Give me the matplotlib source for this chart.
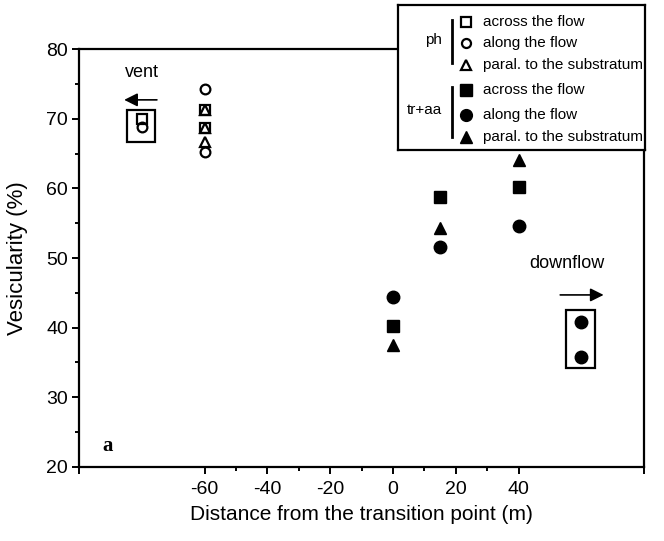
import matplotlib
matplotlib.use("Agg")
import matplotlib.pyplot as plt
from matplotlib.patches import Rectangle

plt.rcParams['font.family'] = ['Liberation Sans', 'DejaVu Sans']

# ph (open symbols) at the vent side, x = -60 m
ph_across = [71.2, 68.7]
ph_along = [74.3, 65.2]
ph_paral = [71.2, 68.7, 66.6]

# tr+aa (filled symbols)
tr_x = [0, 15, 40]
tr_across = [40.3, 58.8, 60.2]
tr_along = [44.4, 51.6, 54.6]
tr_paral = [37.5, 54.3, 64.1]

# reference symbols in the boxes
vent_x = -80
vent_across = [70.0]
vent_along = [68.8]
down_x = 60
down_along = [40.8, 35.8]

legend_groups = ["ph", "tr+aa"]
legend_labels = ["across the flow", "along the flow", "paral. to the substratum"]

fig = plt.figure(figsize=(6.64, 5.41), dpi=100)
ax = fig.add_axes([0.119, 0.1368, 0.851, 0.7726])

open_kw = dict(ls='none', mfc='white', mec='black', mew=1.6, ms=7)
fill_kw = dict(ls='none', color='black', ms=9)

ax.plot([-60] * len(ph_across), ph_across, marker='s', **open_kw)
ax.plot([-60] * len(ph_paral), ph_paral, marker='^', ls='none', mfc='none', mec='black', mew=1.6, ms=7)
ax.plot([-60] * len(ph_along), ph_along, marker='o', **open_kw)

ax.plot(tr_x, tr_across, marker='s', **fill_kw)
ax.plot(tr_x, tr_along, marker='o', **fill_kw)
ax.plot(tr_x, tr_paral, marker='^', **fill_kw)

# vent box
ax.plot([vent_x], vent_across, marker='s', ls='none', mfc='none', mec='black', mew=1.6, ms=7)
ax.plot([vent_x], vent_along, marker='o', ls='none', mfc='none', mec='black', mew=1.6, ms=7)
ax.add_patch(Rectangle((-84.7, 66.6), 9.0, 4.7, fill=False, lw=1.6, ec='black'))
ax.text(vent_x, 76.6, "vent", ha='center', va='center', fontsize=13)
ax.annotate("", xy=(-86.5, 72.7), xytext=(-74.3, 72.7),
            arrowprops=dict(arrowstyle='-|>', color='black', lw=1.2, mutation_scale=20))

# downflow box
ax.plot([down_x] * len(down_along), down_along, marker='o', **fill_kw)
ax.add_patch(Rectangle((55.0, 34.2), 9.5, 8.4, fill=False, lw=1.6, ec='black'))
ax.text(55.5, 49.2, "downflow", ha='center', va='center', fontsize=13)
ax.annotate("", xy=(68.0, 44.7), xytext=(52.4, 44.7),
            arrowprops=dict(arrowstyle='-|>', color='black', lw=1.2, mutation_scale=20))

ax.text(-91, 23.0, "a", fontsize=15, fontweight='bold', family='Liberation Serif',
        ha='center', va='center')

ax.set_xlim(-100, 80)
ax.set_ylim(20, 80)
ax.set_xticks([-100, -60, -40, -20, 0, 20, 40, 80])
ax.set_xticklabels(["", "-60", "-40", "-20", "0", "20", "40", ""])
ax.set_xticks([-50, -30, -10, 10, 30], minor=True)
ax.set_yticks([20, 30, 40, 50, 60, 70, 80])
ax.set_yticks([25, 35, 45, 55, 65, 75], minor=True)
ax.tick_params(which='both', direction='out', width=1.4, labelsize=14)
ax.tick_params(which='major', length=5)
ax.tick_params(which='minor', length=3)
ax.tick_params(axis='x', pad=5)
ax.tick_params(axis='y', pad=3)
for s in ax.spines.values():
    s.set_linewidth(1.6)
ax.set_xlabel("Distance from the transition point (m)", fontsize=15, labelpad=5)
ax.set_ylabel("Vesicularity (%)", fontsize=16, labelpad=13)

# legend box drawn as a small overlay axes in pixel-like units
lax = fig.add_axes([0.599, 0.7227, 0.372, 0.268])
lax.set_xlim(0, 247)
lax.set_ylim(145, 0)
lax.set_xticks([])
lax.set_yticks([])
for s in lax.spines.values():
    s.set_linewidth(1.6)

markers = ['s', 'o', '^']
rows = [[17, 38, 60], [85, 110, 132]]
bars = [(15, 58), (82, 132)]
text_y = [35, 105]
for g, group in enumerate(legend_groups):
    lax.text(44, text_y[g], group, ha='right', va='center', fontsize=11)
    lax.plot([54, 54], bars[g], color='black', lw=2)
    for m, lab, y in zip(markers, legend_labels, rows[g]):
        if g == 0:
            lax.plot(68, y, marker=m, mfc='white', mec='black', mew=1.6, ms=6.5)
        else:
            lax.plot(68, y, marker=m, color='black', ms=8.5)
        lax.text(85, y, lab, ha='left', va='center', fontsize=11)

fig.savefig("out.png", dpi=100)
